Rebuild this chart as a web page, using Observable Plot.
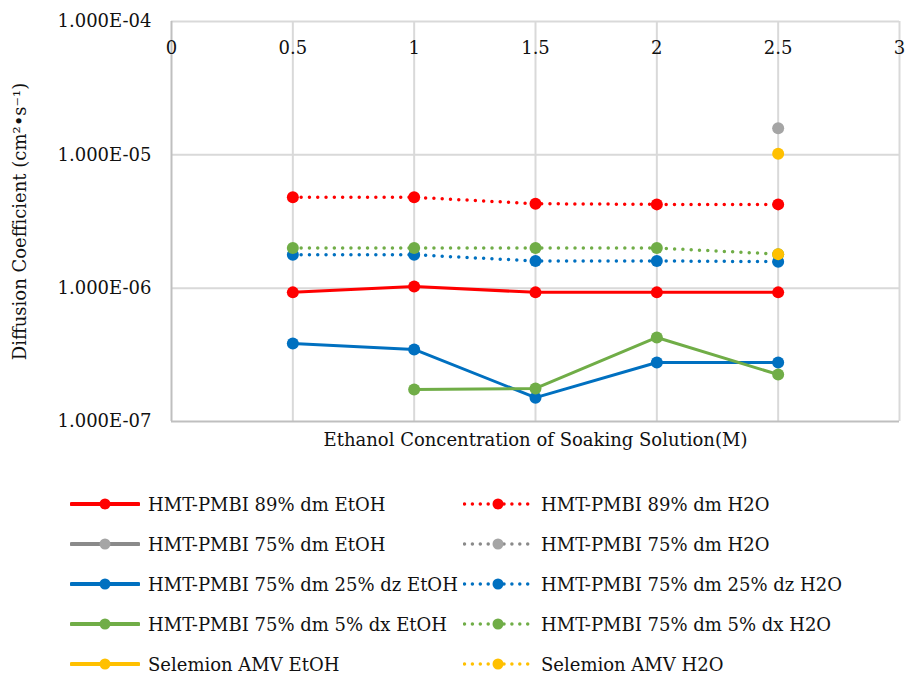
<!DOCTYPE html>
<html>
<head>
<meta charset="utf-8">
<script src="https://cdn.jsdelivr.net/npm/d3@7"></script>
<script src="https://cdn.jsdelivr.net/npm/@observablehq/plot@0.6"></script>
<style>
  body { margin: 0; background: #fff; }
  #chart svg { display: block; }
  .legend {
    display: grid;
    grid-template-columns: 393px 380px;
    margin-left: 70px;
    margin-top: 24px;
    font-family: "DejaVu Serif", serif;
    font-size: 18px;
    color: #111;
  }
  .legend .item { display: flex; align-items: center; height: 40px; white-space: nowrap; }
  .legend svg { margin-right: 8px; flex: none; }
</style>
</head>
<body>
<div id="chart"></div>
<div class="legend" id="legend"></div>
<script>
// Ethanol concentration of the soaking solution (M)
const concentrations = [0.5, 1, 1.5, 2, 2.5];

// Diffusion coefficients (cm²·s⁻¹); null = not measured
const pmbi89EtOH   = [9.3e-7, 1.03e-6, 9.3e-7, 9.3e-7, 9.3e-7];
const pmbi89H2O    = [4.8e-6, 4.8e-6, 4.3e-6, 4.25e-6, 4.25e-6];
const pmbi75EtOH   = [null, null, null, null, null];
const pmbi75H2O    = [null, null, null, null, 1.58e-5];
const pmbi75dzEtOH = [3.85e-7, 3.47e-7, 1.51e-7, 2.77e-7, 2.77e-7];
const pmbi75dzH2O  = [1.78e-6, 1.78e-6, 1.6e-6, 1.6e-6, 1.58e-6];
const pmbi75dxEtOH = [null, 1.74e-7, 1.77e-7, 4.27e-7, 2.25e-7];
const pmbi75dxH2O  = [2.0e-6, 2.0e-6, 2.0e-6, 2.0e-6, 1.8e-6];
const amvEtOH      = [null, null, null, null, 1.8e-6];
const amvH2O       = [null, null, null, null, 1.02e-5];

const seriesNames = [
  "HMT-PMBI 89% dm EtOH", "HMT-PMBI 89% dm H2O",
  "HMT-PMBI 75% dm EtOH", "HMT-PMBI 75% dm H2O",
  "HMT-PMBI 75% dm 25% dz EtOH", "HMT-PMBI 75% dm 25% dz H2O",
  "HMT-PMBI 75% dm 5% dx EtOH", "HMT-PMBI 75% dm 5% dx H2O",
  "Selemion AMV EtOH", "Selemion AMV H2O"
];
const seriesValues = [
  pmbi89EtOH, pmbi89H2O, pmbi75EtOH, pmbi75H2O,
  pmbi75dzEtOH, pmbi75dzH2O, pmbi75dxEtOH, pmbi75dxH2O,
  amvEtOH, amvH2O
];
const seriesColors = [
  "#ff0000", "#ff0000", "#a5a5a5", "#a5a5a5",
  "#0070c0", "#0070c0", "#70ad47", "#70ad47",
  "#ffc000", "#ffc000"
];
const lineColors = [
  "#ff0000", "#ff0000", "#8a8a8a", "#8a8a8a",
  "#0070c0", "#0070c0", "#70ad47", "#70ad47",
  "#ffc000", "#ffc000"
];
const seriesDotted = [false, true, false, true, false, true, false, true, false, true];

const xTicks = [0, 0.5, 1, 1.5, 2, 2.5, 3];
const xTickLabels = ["0", "0.5", "1", "1.5", "2", "2.5", "3"];
const yTicks = [1e-7, 1e-6, 1e-5, 1e-4];
const yTickLabels = ["1.000E-07", "1.000E-06", "1.000E-05", "1.000E-04"];

const xTitle = "Ethanol Concentration of Soaking Solution(M)";
const yTitle = "Diffusion Coefficient (cm²•s⁻¹)";

const GRID = "#d9d9d9";
const AXIS = "#bfbfbf";

const seriesMarks = seriesValues.flatMap((vals, i) => {
  const rows = concentrations.map((x, j) => ({x, y: vals[j]}));
  const pts = rows.filter(d => d.y != null);
  return [
    Plot.line(rows, {
      x: "x", y: "y",
      stroke: lineColors[i],
      strokeWidth: seriesDotted[i] ? 3.5 : 3,
      strokeLinecap: "round",
      strokeDasharray: seriesDotted[i] ? "0 8.3" : null
    }),
    Plot.dot(pts, {x: "x", y: "y", r: 6, fill: seriesColors[i], stroke: "none"})
  ];
});

const chart = Plot.plot({
  width: 906,
  height: 460,
  marginLeft: 171,
  marginRight: 7,
  marginTop: 21,
  marginBottom: 39,
  style: {fontFamily: "DejaVu Serif", fontSize: "18px", color: "#111", background: "#fff"},
  x: {domain: [0, 3], axis: null},
  y: {type: "log", domain: [1e-7, 1e-4], axis: null},
  marks: [
    Plot.ruleX(xTicks.slice(1), {x: d => d, stroke: GRID, strokeWidth: 2}),
    Plot.ruleY(yTicks.slice(1), {y: d => d, stroke: GRID, strokeWidth: 2}),
    Plot.ruleX([0], {stroke: AXIS, strokeWidth: 2}),
    Plot.ruleY([1e-7], {stroke: AXIS, strokeWidth: 2}),
    ...seriesMarks,
    Plot.axisY(yTicks, {
      tickSize: 0, tickPadding: 20, label: null,
      tickFormat: d => yTickLabels[yTicks.indexOf(d)],
      fontSize: 18
    }),
    Plot.text(xTicks, {
      x: d => d, frameAnchor: "top", dy: 27, lineAnchor: "middle",
      text: (d, i) => xTickLabels[i], fontSize: 18, fill: "#111"
    }),
    Plot.text([xTitle], {frameAnchor: "bottom", dy: 19, lineAnchor: "middle", text: d => d, fontSize: 18, fill: "#111"}),
    Plot.text([yTitle], {
      frameAnchor: "left", dx: -151, rotate: -90, textAnchor: "middle", lineAnchor: "middle",
      text: d => d, fontSize: 18, fill: "#111"
    })
  ]
});
document.getElementById("chart").appendChild(chart);

// Legend: two columns, EtOH (solid) on the left, H2O (dotted) on the right
const legend = d3.select("#legend");
seriesNames.forEach((name, i) => {
  const item = legend.append("div").attr("class", "item");
  const sw = item.append("svg").attr("width", 70).attr("height", 14);
  sw.append("line")
    .attr("x1", 1.5).attr("x2", 68.5)
    .attr("y1", 7).attr("y2", 7)
    .attr("stroke", lineColors[i])
    .attr("stroke-width", seriesDotted[i] ? 3.5 : 4)
    .attr("stroke-linecap", "round")
    .attr("stroke-dasharray", seriesDotted[i] ? "0 7.9" : null);
  sw.append("circle").attr("cx", 35).attr("cy", 7).attr("r", 5.5).attr("fill", seriesColors[i]);
  item.append("span").text(name);
});
</script>
</body>
</html>
